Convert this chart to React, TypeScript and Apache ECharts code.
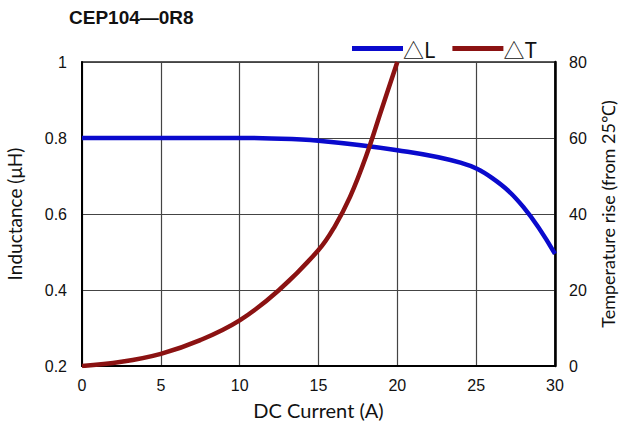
import React, { useEffect, useRef } from "react";
import * as echarts from "echarts";

const title = "CEP104—0R8";
const xName = "DC Current (A)";
const leftName = "Inductance (μH)";
const rightName = "Temperature rise (from 25℃)";
const legendL = "△L";
const legendT = "△T";

const inductanceX = [0, 10, 12, 15, 20, 24, 26, 28, 30];
const inductanceY = [0.8, 0.8, 0.799, 0.793, 0.768, 0.735, 0.695, 0.618, 0.495];

const tempX = [0, 2.5, 5, 7.5, 10, 12.5, 15, 16, 17, 18, 19, 20];
const tempY = [0, 1.1, 3.2, 6.8, 12, 20, 30.5, 36.5, 44.5, 55, 67.5, 80];

export default function App() {
  const ref = useRef<HTMLDivElement>(null);
  useEffect(() => {
    const chart = echarts.init(ref.current!, null, { renderer: "svg" });
    const tickFont = { fontFamily: "Liberation Sans", fontSize: 16, color: "#111" };
    const nameFont = { fontFamily: "Lato", fontSize: 19, color: "#111" };
    chart.setOption({
      animation: false,
      backgroundColor: "#fff",
      title: {
        text: title,
        left: 64,
        top: 3,
        textStyle: { fontFamily: "Liberation Sans", fontSize: 19, fontWeight: "bold", color: "#111" },
      },
      legend: {
        left: 347,
        top: 33,
        icon: "rect",
        itemWidth: 51,
        itemHeight: 5,
        itemGap: 17,
        textStyle: { fontFamily: "Noto Sans CJK SC", fontSize: 21, color: "#111", padding: [0, 0, 0, -5] },
        data: [legendL, legendT],
      },
      grid: {
        left: 82,
        right: 66,
        top: 62,
        bottom: 59,
        show: true,
        borderColor: "#222",
        borderWidth: 1.5,
        outerBoundsMode: "none",
        containLabel: false,
      },
      xAxis: {
        type: "value",
        min: 0,
        max: 30,
        interval: 5,
        name: xName,
        nameLocation: "middle",
        nameGap: 34,
        nameTextStyle: { ...nameFont, fontSize: 20 },
        axisLine: { show: true, onZero: false, lineStyle: { color: "#000", width: 2 } },
        axisTick: { show: false },
        axisLabel: { ...tickFont, margin: 11 },
        splitLine: { show: true, lineStyle: { color: "#444", width: 1.2 } },
      },
      yAxis: [
        {
          type: "value",
          min: 0.2,
          max: 1,
          interval: 0.2,
          name: leftName,
          nameLocation: "middle",
          nameGap: 58,
          nameTextStyle: nameFont,
          axisLine: { show: true, lineStyle: { color: "#000", width: 2 } },
          axisTick: { show: false },
          axisLabel: { ...tickFont, margin: 15, formatter: (v: number) => String(Math.round(v * 10) / 10) },
          splitLine: { show: true, lineStyle: { color: "#444", width: 1.2 } },
        },
        {
          type: "value",
          min: 0,
          max: 80,
          interval: 20,
          name: rightName,
          nameLocation: "middle",
          nameGap: 44,
          nameRotate: 90,
          nameTextStyle: { ...nameFont, fontSize: 18 },
          axisLine: { show: true, lineStyle: { color: "#000", width: 2.5 } },
          axisTick: { show: false },
          axisLabel: { ...tickFont, margin: 14 },
          splitLine: { show: false },
        },
      ],
      series: [
        {
          name: legendL,
          type: "line",
          yAxisIndex: 0,
          smooth: 0.4,
          showSymbol: false,
          color: "#0a0acd",
          lineStyle: { width: 4.5, color: "#0a0acd" },
          data: inductanceX.map((x, i) => [x, inductanceY[i]]),
        },
        {
          name: legendT,
          type: "line",
          yAxisIndex: 1,
          smooth: 0.4,
          showSymbol: false,
          color: "#8b1212",
          lineStyle: { width: 4.5, color: "#8b1212" },
          data: tempX.map((x, i) => [x, tempY[i]]),
        },
      ],
    });
    return () => chart.dispose();
  }, []);
  return <div ref={ref} style={{ position: "fixed", left: 0, top: 0, width: 621, height: 425 }} />;
}
